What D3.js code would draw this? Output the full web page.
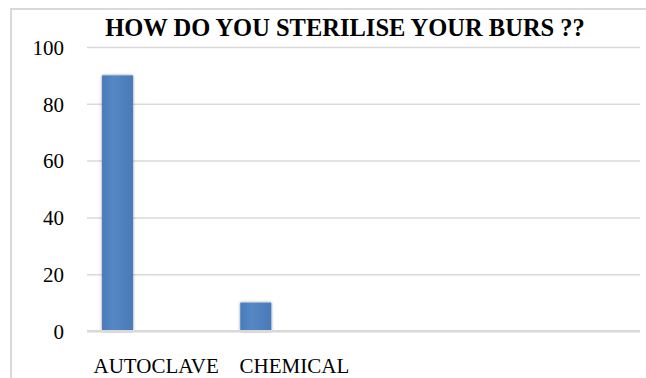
<!DOCTYPE html>
<html>
<head>
<meta charset="utf-8">
<script src="https://cdn.jsdelivr.net/npm/d3@7"></script>
<style>
    html, body { margin: 0; padding: 0; background: #fff; }
    svg { display: block; }
</style>
</head>
<body>
<div id="chart"></div>
<script>
'use strict';

// Chart data.
var title       = 'HOW DO YOU STERILISE YOUR BURS ??';
var categories  = ['AUTOCLAVE', 'CHEMICAL', '', ''];
var seriesNames = ['Series1', 'Series2', 'Series3'];
var series1     = [90, 10, null, null];
var series2     = [null, null, null, null];
var series3     = [null, null, null, null];
var yTicks      = [0, 20, 40, 60, 80, 100];

var FONT = '"Liberation Serif", "Times New Roman", Times, serif';

var width  = 646,
    height = 378,
    margin = {top: 47, right: 6, bottom: 47, left: 87};

var svg = d3.select('#chart').append('svg')
    .attr('width', width)
    .attr('height', height);

// Drop shadow for the bars.
var defs = svg.append('defs');
var shadow = defs.append('filter')
    .attr('id', 'barShadow')
    .attr('x', '-30%').attr('y', '-10%')
    .attr('width', '160%').attr('height', '130%');
shadow.append('feGaussianBlur').attr('in', 'SourceAlpha').attr('stdDeviation', 1.6);
shadow.append('feOffset').attr('dx', 0).attr('dy', 0).attr('result', 'blur');
shadow.append('feComponentTransfer').append('feFuncA').attr('type', 'linear').attr('slope', 0.45);
var merge = shadow.append('feMerge');
merge.append('feMergeNode');
merge.append('feMergeNode').attr('in', 'SourceGraphic');

var grad = defs.append('linearGradient').attr('id', 'barFill')
    .attr('x1', 0).attr('x2', 1).attr('y1', 0).attr('y2', 0);
grad.append('stop').attr('offset', '0%').attr('stop-color', '#4a7bbb');
grad.append('stop').attr('offset', '35%').attr('stop-color', '#5587c4');
grad.append('stop').attr('offset', '100%').attr('stop-color', '#4a7ab8');

// Chart area border.
svg.append('path')
    .attr('d', 'M11,' + height + 'V9H' + width)
    .attr('fill', 'none')
    .attr('stroke', '#d9d9d9')
    .attr('stroke-width', 2);

var plotW = width - margin.left - margin.right,
    plotH = height - margin.top - margin.bottom;

var x = d3.scaleBand()
    .domain(categories.map(function (d, i) { return i; }))
    .range([0, plotW]);

var xs = d3.scaleBand()
    .domain(seriesNames)
    .range([0, x.bandwidth()])
    .paddingInner(0.197)
    .paddingOuter(0.39);

var y = d3.scaleLinear()
    .domain([0, 100])
    .range([plotH, 0]);

var g = svg.append('g')
    .attr('transform', 'translate(' + margin.left + ',' + margin.top + ')');

// Grid.
g.append('g')
    .attr('class', 'grid')
    .call(d3.axisLeft(y).tickValues(yTicks).tickSize(-plotW).tickFormat(''))
    .call(function (sel) {
        sel.select('.domain').remove();
        sel.selectAll('line')
            .attr('stroke', '#d9d9d9')
            .attr('stroke-width', function (d) { return d === 0 ? 2.2 : 1.5; });
    });

// Y labels.
g.append('g')
    .attr('class', 'axis')
    .call(d3.axisLeft(y).tickValues(yTicks).tickSize(0).tickPadding(23))
    .call(function (sel) {
        sel.attr('font-family', FONT).attr('font-size', 21);
        sel.select('.domain').remove();
        sel.selectAll('text')
            .attr('fill', '#000')
            .attr('dy', '0.35em');
    });

// Bars.
var allSeries = [series1, series2, series3];
var barData = [];
allSeries.forEach(function (values, s) {
    values.forEach(function (v, i) {
        if (v !== null) {
            barData.push({cat: i, series: seriesNames[s], value: v});
        }
    });
});

g.selectAll('.bar')
    .data(barData)
    .enter().append('rect')
    .attr('class', 'bar')
    .attr('x', function (d) { return x(d.cat) + xs(d.series); })
    .attr('y', function (d) { return y(d.value); })
    .attr('width', xs.bandwidth())
    .attr('height', function (d) { return plotH - y(d.value); })
    .attr('fill', 'url(#barFill)')
    .attr('filter', 'url(#barShadow)');

// Redraw the zero line above the bars.
g.append('line')
    .attr('x1', 0).attr('x2', plotW)
    .attr('y1', y(0)).attr('y2', y(0))
    .attr('stroke', '#d9d9d9')
    .attr('stroke-width', 2.2);

// X labels.
g.append('g')
    .attr('class', 'axis')
    .attr('transform', 'translate(0,' + plotH + ')')
    .call(d3.axisBottom(x).tickSize(0).tickPadding(0).tickFormat(function (i) { return categories[i]; }))
    .call(function (sel) {
        sel.attr('font-family', FONT).attr('font-size', 21);
        sel.select('.domain').remove();
        sel.selectAll('text')
            .attr('fill', '#000')
            .attr('y', 42)
            .attr('dy', 0);
    });

// Title.
svg.append('text')
    .attr('x', 345)
    .attr('y', 36)
    .attr('text-anchor', 'middle')
    .attr('font-family', FONT)
    .attr('font-size', 24.5)
    .attr('font-weight', 'bold')
    .attr('fill', '#000')
    .text(title);
</script>
</body>
</html>
